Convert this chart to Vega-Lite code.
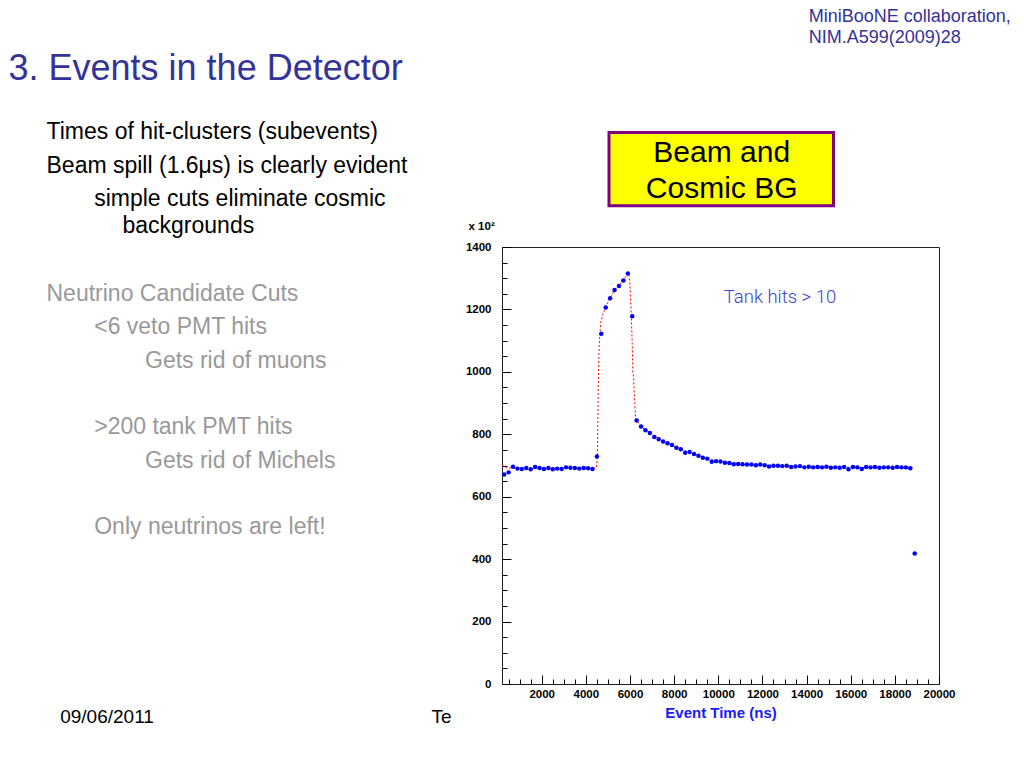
{
  "$schema": "https://vega.github.io/schema/vega-lite/v6.json",
  "autosize": {"type": "none"},
  "width": 437,
  "height": 437,
  "padding": {"left": 502, "top": 247, "right": 85, "bottom": 84},
  "background": "white",
  "config": {
    "font": "Liberation Sans",
    "view": {"stroke": "#222222", "strokeWidth": 1},
    "axis": {"grid": false, "domain": false, "labelFlush": false, "labelOverlap": false, "tickColor": "#000000", "tickWidth": 1}
  },
  "datasets": {
    "subevents": [
      {"time_ns": 300, "hits": 671}, {"time_ns": 500, "hits": 678}, {"time_ns": 700, "hits": 696}, {"time_ns": 900, "hits": 690},
      {"time_ns": 1100, "hits": 689}, {"time_ns": 1300, "hits": 692}, {"time_ns": 1500, "hits": 688}, {"time_ns": 1700, "hits": 695},
      {"time_ns": 1900, "hits": 692}, {"time_ns": 2100, "hits": 689}, {"time_ns": 2300, "hits": 692}, {"time_ns": 2500, "hits": 688},
      {"time_ns": 2700, "hits": 690}, {"time_ns": 2900, "hits": 689}, {"time_ns": 3100, "hits": 694}, {"time_ns": 3300, "hits": 693},
      {"time_ns": 3500, "hits": 692}, {"time_ns": 3700, "hits": 690}, {"time_ns": 3900, "hits": 692}, {"time_ns": 4100, "hits": 691},
      {"time_ns": 4300, "hits": 689}, {"time_ns": 4500, "hits": 729}, {"time_ns": 4700, "hits": 1122}, {"time_ns": 4900, "hits": 1206},
      {"time_ns": 5100, "hits": 1236}, {"time_ns": 5300, "hits": 1262}, {"time_ns": 5500, "hits": 1275}, {"time_ns": 5700, "hits": 1293},
      {"time_ns": 5900, "hits": 1315}, {"time_ns": 6100, "hits": 1178}, {"time_ns": 6300, "hits": 844}, {"time_ns": 6500, "hits": 825},
      {"time_ns": 6700, "hits": 813}, {"time_ns": 6900, "hits": 804}, {"time_ns": 7100, "hits": 791}, {"time_ns": 7300, "hits": 784},
      {"time_ns": 7500, "hits": 777}, {"time_ns": 7700, "hits": 771}, {"time_ns": 7900, "hits": 766}, {"time_ns": 8100, "hits": 757},
      {"time_ns": 8300, "hits": 752}, {"time_ns": 8500, "hits": 741}, {"time_ns": 8700, "hits": 743}, {"time_ns": 8900, "hits": 737},
      {"time_ns": 9100, "hits": 731}, {"time_ns": 9300, "hits": 725}, {"time_ns": 9500, "hits": 722}, {"time_ns": 9700, "hits": 712},
      {"time_ns": 9900, "hits": 714}, {"time_ns": 10100, "hits": 713}, {"time_ns": 10300, "hits": 709}, {"time_ns": 10500, "hits": 708},
      {"time_ns": 10700, "hits": 704}, {"time_ns": 10900, "hits": 705}, {"time_ns": 11100, "hits": 704}, {"time_ns": 11300, "hits": 703},
      {"time_ns": 11500, "hits": 703}, {"time_ns": 11700, "hits": 701}, {"time_ns": 11900, "hits": 703}, {"time_ns": 12100, "hits": 701},
      {"time_ns": 12300, "hits": 697}, {"time_ns": 12500, "hits": 699}, {"time_ns": 12700, "hits": 699}, {"time_ns": 12900, "hits": 698},
      {"time_ns": 13100, "hits": 699}, {"time_ns": 13300, "hits": 695}, {"time_ns": 13500, "hits": 697}, {"time_ns": 13700, "hits": 698},
      {"time_ns": 13900, "hits": 694}, {"time_ns": 14100, "hits": 696}, {"time_ns": 14300, "hits": 694}, {"time_ns": 14500, "hits": 695},
      {"time_ns": 14700, "hits": 694}, {"time_ns": 14900, "hits": 696}, {"time_ns": 15100, "hits": 693}, {"time_ns": 15300, "hits": 694},
      {"time_ns": 15500, "hits": 693}, {"time_ns": 15700, "hits": 695}, {"time_ns": 15900, "hits": 688}, {"time_ns": 16100, "hits": 695},
      {"time_ns": 16300, "hits": 694}, {"time_ns": 16500, "hits": 689}, {"time_ns": 16700, "hits": 695}, {"time_ns": 16900, "hits": 694},
      {"time_ns": 17100, "hits": 695}, {"time_ns": 17300, "hits": 693}, {"time_ns": 17500, "hits": 694}, {"time_ns": 17700, "hits": 694},
      {"time_ns": 17900, "hits": 693}, {"time_ns": 18100, "hits": 695}, {"time_ns": 18300, "hits": 694}, {"time_ns": 18500, "hits": 694},
      {"time_ns": 18700, "hits": 691}, {"time_ns": 18900, "hits": 418}
    ],
    "fit": [
      {"time_ns": 200, "hits": 702}, {"time_ns": 400, "hits": 693}, {"time_ns": 800, "hits": 691}, {"time_ns": 1500, "hits": 691},
      {"time_ns": 2500, "hits": 691}, {"time_ns": 3500, "hits": 691}, {"time_ns": 4300, "hits": 691}, {"time_ns": 4480, "hits": 693},
      {"time_ns": 4525, "hits": 730}, {"time_ns": 4560, "hits": 950}, {"time_ns": 4600, "hits": 1080}, {"time_ns": 4670, "hits": 1157},
      {"time_ns": 4765, "hits": 1183}, {"time_ns": 4900, "hits": 1208}, {"time_ns": 5100, "hits": 1238}, {"time_ns": 5300, "hits": 1262},
      {"time_ns": 5500, "hits": 1277}, {"time_ns": 5700, "hits": 1294}, {"time_ns": 5900, "hits": 1314}, {"time_ns": 5940, "hits": 1317},
      {"time_ns": 5990, "hits": 1290}, {"time_ns": 6050, "hits": 1195}, {"time_ns": 6100, "hits": 1090}, {"time_ns": 6130, "hits": 996},
      {"time_ns": 6160, "hits": 985}, {"time_ns": 6200, "hits": 920}, {"time_ns": 6250, "hits": 857}, {"time_ns": 6300, "hits": 845},
      {"time_ns": 6500, "hits": 826}, {"time_ns": 6700, "hits": 813}, {"time_ns": 7000, "hits": 798}, {"time_ns": 7500, "hits": 778},
      {"time_ns": 8000, "hits": 762}, {"time_ns": 8500, "hits": 747}, {"time_ns": 9000, "hits": 734}, {"time_ns": 9500, "hits": 722},
      {"time_ns": 10000, "hits": 714}, {"time_ns": 10500, "hits": 708}, {"time_ns": 11000, "hits": 704}, {"time_ns": 12000, "hits": 700},
      {"time_ns": 13000, "hits": 697}, {"time_ns": 14000, "hits": 695}, {"time_ns": 16000, "hits": 694}, {"time_ns": 18800, "hits": 692}
    ],
    "slide": [
      {"part": "title", "text": "3. Events in the Detector", "line": 0, "level": 0},
      {"part": "credit", "text": "MiniBooNE collaboration,", "line": 0, "level": 0},
      {"part": "credit", "text": "NIM.A599(2009)28", "line": 1, "level": 0},
      {"part": "main", "text": "Times of hit-clusters (subevents)", "line": 0, "level": 0},
      {"part": "main", "text": "Beam spill (1.6μs) is clearly evident", "line": 1, "level": 0},
      {"part": "main", "text": "simple cuts eliminate cosmic", "line": 2, "level": 1},
      {"part": "main", "text": "backgrounds", "line": 3, "level": 1.5},
      {"part": "cuts", "text": "Neutrino Candidate Cuts", "line": 0, "level": 0},
      {"part": "cuts", "text": "<6 veto PMT hits", "line": 1, "level": 1},
      {"part": "cuts", "text": "Gets rid of muons", "line": 2, "level": 2},
      {"part": "cuts", "text": ">200 tank PMT hits", "line": 4, "level": 1},
      {"part": "cuts", "text": "Gets rid of Michels", "line": 5, "level": 2},
      {"part": "cuts", "text": "Only neutrinos are left!", "line": 7, "level": 1},
      {"part": "footer", "text": "09/06/2011", "line": 0, "level": 0},
      {"part": "footer", "text": "Te", "line": 0, "level": 1}
    ]
  },
  "layer": [
    {
      "data": {"name": "fit"},
      "mark": {"type": "line", "color": "#ff0000", "strokeWidth": 1, "strokeDash": [2, 2]},
      "encoding": {
        "x": {"field": "time_ns", "type": "quantitative", "scale": {"domain": [200, 20000], "nice": false, "zero": false},
          "axis": {"orient": "bottom", "values": [500,1000,1500,2000,2500,3000,3500,4000,4500,5000,5500,6000,6500,7000,7500,8000,8500,9000,9500,10000,10500,11000,11500,12000,12500,13000,13500,14000,14500,15000,15500,16000,16500,17000,17500,18000,18500,19000,19500],
            "tickSize": -5, "labels": false, "title": null}},
        "y": {"field": "hits", "type": "quantitative", "scale": {"domain": [0, 1400], "nice": false, "zero": false},
          "axis": {"orient": "left", "values": [50,100,150,200,250,300,350,400,450,500,550,600,650,700,750,800,850,900,950,1000,1050,1100,1150,1200,1250,1300,1350],
            "tickSize": -5, "labels": false, "title": null}}
      }
    },
    {
      "data": {"name": "subevents"},
      "mark": {"type": "point", "filled": true, "shape": "circle", "size": 20, "color": "#0000ff", "opacity": 1, "strokeWidth": 0},
      "encoding": {
        "x": {"field": "time_ns", "type": "quantitative", "scale": {"domain": [200, 20000], "nice": false, "zero": false},
          "axis": {"orient": "bottom", "values": [2000,4000,6000,8000,10000,12000,14000,16000,18000,20000], "format": "d",
            "tickSize": -9, "labelPadding": 13, "labelFontSize": 11.5, "labelFontWeight": "bold", "labelColor": "#000000",
            "title": "Event Time (ns)", "titleColor": "#1a1aff", "titleFontSize": 15, "titleFontWeight": "bold", "titlePadding": 6}},
        "y": {"field": "hits", "type": "quantitative", "scale": {"domain": [0, 1400], "nice": false, "zero": false},
          "axis": {"orient": "left", "values": [0,200,400,600,800,1000,1200,1400], "format": "d",
            "tickSize": -9, "labelPadding": 20, "labelFontSize": 11.5, "labelFontWeight": "bold", "labelColor": "#000000",
            "title": "x 10²", "titleAngle": 0, "titleAlign": "left", "titleBaseline": "alphabetic", "titleX": -34, "titleY": -17.7,
            "titleFontSize": 11.5, "titleFontWeight": "bold", "titleColor": "#000000"}}
      }
    },
    {
      "data": {"values": [{"label": "Tank hits > 10"}]},
      "mark": {"type": "text", "align": "center", "baseline": "alphabetic", "font": "Roboto", "fontWeight": 300, "fontSize": 18.5, "color": "#4040d8"},
      "encoding": {
        "text": {"field": "label"},
        "x": {"datum": 12796, "type": "quantitative", "scale": {"domain": [200, 20000], "nice": false, "zero": false}, "axis": null},
        "y": {"datum": 1221.5, "type": "quantitative", "scale": {"domain": [0, 1400], "nice": false, "zero": false}, "axis": null}
      }
    },
    {
      "data": {"values": [{"label": "Beam and\nCosmic BG"}]},
      "mark": {"type": "rect", "fill": "#ffff00", "stroke": "#800080", "strokeWidth": 3},
      "encoding": {
        "x": {"datum": 5048, "type": "quantitative", "scale": {"domain": [200, 20000], "nice": false, "zero": false}, "axis": null},
        "x2": {"datum": 15219},
        "y": {"datum": 1766.8, "type": "quantitative", "scale": {"domain": [0, 1400], "nice": false, "zero": false}, "axis": null},
        "y2": {"datum": 1532}
      }
    },
    {
      "data": {"values": [{"label": "Beam and\nCosmic BG"}]},
      "mark": {"type": "text", "align": "center", "baseline": "alphabetic", "fontSize": 30, "lineBreak": "\n", "lineHeight": 36.6, "color": "#000000"},
      "encoding": {
        "text": {"field": "label"},
        "x": {"datum": 10154, "type": "quantitative", "scale": {"domain": [200, 20000], "nice": false, "zero": false}, "axis": null},
        "y": {"datum": 1673.3, "type": "quantitative", "scale": {"domain": [0, 1400], "nice": false, "zero": false}, "axis": null}
      }
    },
    {
      "data": {"name": "slide"},
      "transform": [{"filter": "datum.part === 'title'"}],
      "mark": {"type": "text", "align": "left", "baseline": "alphabetic", "fontSize": 36, "color": "#333399"},
      "encoding": {
        "text": {"field": "text"},
        "x": {"field": "level", "type": "quantitative", "scale": {"domain": [0, 1], "range": [-493.5, -492.5], "nice": false, "zero": false}, "axis": null},
        "y": {"field": "line", "type": "quantitative", "scale": {"domain": [0, 1], "range": [-167, -166], "nice": false, "zero": false}, "axis": null}
      }
    },
    {
      "data": {"name": "slide"},
      "transform": [{"filter": "datum.part === 'credit'"}],
      "mark": {"type": "text", "align": "left", "baseline": "alphabetic", "fontSize": 18, "color": "#333399"},
      "encoding": {
        "text": {"field": "text"},
        "x": {"field": "level", "type": "quantitative", "scale": {"domain": [0, 1], "range": [306.7, 307.7], "nice": false, "zero": false}, "axis": null},
        "y": {"field": "line", "type": "quantitative", "scale": {"domain": [0, 1], "range": [-225.3, -204.3], "nice": false, "zero": false}, "axis": null}
      }
    },
    {
      "data": {"name": "slide"},
      "transform": [{"filter": "datum.part === 'main'"}],
      "mark": {"type": "text", "align": "left", "baseline": "alphabetic", "fontSize": 23, "color": "#000000"},
      "encoding": {
        "text": {"field": "text"},
        "x": {"field": "level", "type": "quantitative", "scale": {"domain": [0, 1, 1.5], "range": [-455.5, -407.8, -379.5], "nice": false, "zero": false}, "axis": null},
        "y": {"field": "line", "type": "quantitative", "scale": {"domain": [0, 2, 3], "range": [-107.7, -41, -13.7], "nice": false, "zero": false}, "axis": null}
      }
    },
    {
      "data": {"name": "slide"},
      "transform": [{"filter": "datum.part === 'cuts'"}],
      "mark": {"type": "text", "align": "left", "baseline": "alphabetic", "fontSize": 23, "color": "#999999"},
      "encoding": {
        "text": {"field": "text"},
        "x": {"field": "level", "type": "quantitative", "scale": {"domain": [0, 1, 2], "range": [-455.5, -407.8, -357], "nice": false, "zero": false}, "axis": null},
        "y": {"field": "line", "type": "quantitative", "scale": {"domain": [0, 7], "range": [54, 287.3], "nice": false, "zero": false}, "axis": null}
      }
    },
    {
      "data": {"name": "slide"},
      "transform": [{"filter": "datum.part === 'footer'"}],
      "mark": {"type": "text", "align": "left", "baseline": "alphabetic", "fontSize": 19, "color": "#000000"},
      "encoding": {
        "text": {"field": "text"},
        "x": {"field": "level", "type": "quantitative", "scale": {"domain": [0, 1], "range": [-441.8, -70.4], "nice": false, "zero": false}, "axis": null},
        "y": {"field": "line", "type": "quantitative", "scale": {"domain": [0, 1], "range": [476.3, 477.3], "nice": false, "zero": false}, "axis": null}
      }
    }
  ],
  "resolve": {
    "scale": {"x": "independent", "y": "independent"},
    "axis": {"x": "independent", "y": "independent"}
  }
}
